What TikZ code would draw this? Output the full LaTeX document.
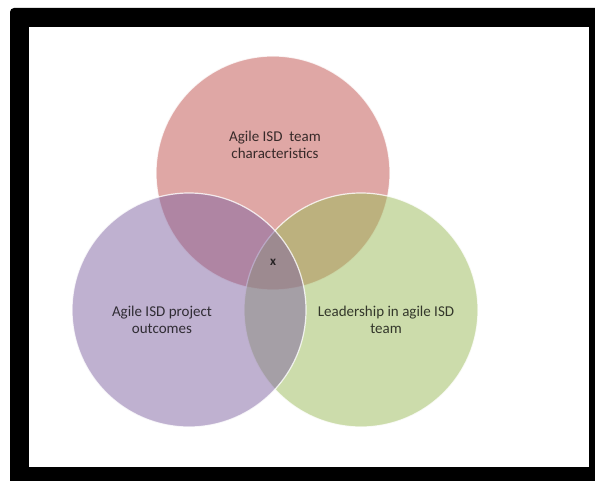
\documentclass[tikz,border=0pt]{standalone}
\usepackage{fontspec}
\setmainfont{Carlito}
\definecolor{vennred}{HTML}{C0504D}
\definecolor{venngreen}{HTML}{9BBB59}
\definecolor{vennpurple}{HTML}{8064A2}
\tikzset{
	venn/.style={draw=white, line width=1.2pt, fill opacity=0.5, draw opacity=0.8},
	vennlabel/.style={align=center, font=\fontsize{15}{17}\selectfont, text=black, text opacity=0.75}
}
\begin{document}
\begin{tikzpicture}[x=1pt,y=-1pt]
\useasboundingbox (0,0) rectangle (595,481);
% frame
\fill[black, rounded corners=4pt] (10,495) -- (10,8) -- (610,8) -- (610,495) -- cycle;
\fill[white] (29,27) rectangle (589,467);
% the three sets, purple last so it lies on top
\def\R{117pt}
\foreach \cx/\cy/\col in {273/173/vennred, 361/310/venngreen, 189/310/vennpurple} {
	\filldraw[venn, fill=\col] (\cx,\cy) circle (\R);
}
\node[vennlabel] (team) at (275,145) {Agile ISD\ \ team\\characteristics};
\node[vennlabel] (outcomes) at (162,320) {Agile ISD project\\outcomes};
\node[vennlabel] (leader) at (386,320) {Leadership in agile ISD\\team};
\node[vennlabel, font=\fontsize{13}{15}\selectfont\bfseries] (core) at (273,262) {x};
\end{tikzpicture}
\end{document}
